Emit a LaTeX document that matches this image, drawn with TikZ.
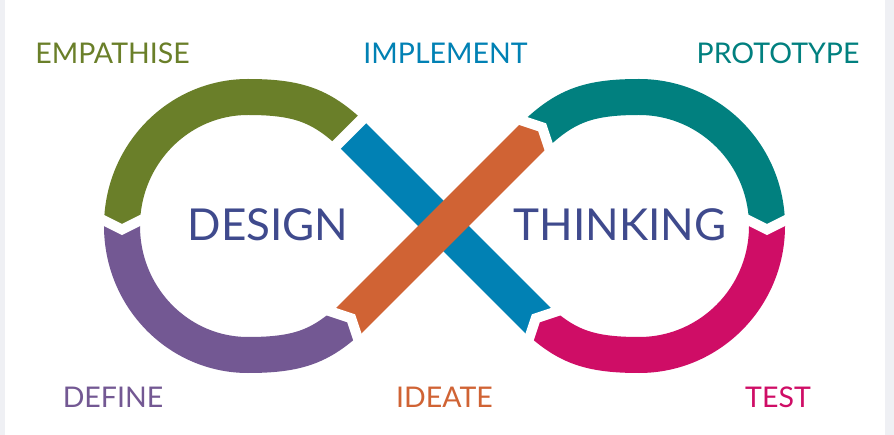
\documentclass[tikz,border=0pt]{standalone}
\usepackage{fontspec}
\setmainfont{Lato}
\definecolor{cgreen}{HTML}{6A7F29}
\definecolor{cpurple}{HTML}{735893}
\definecolor{cblue}{HTML}{0181B4}
\definecolor{corange}{HTML}{D06334}
\definecolor{cteal}{HTML}{01807F}
\definecolor{cpink}{HTML}{CF0D66}
\definecolor{cnavy}{HTML}{3F4A8D}
\definecolor{bggray}{HTML}{EFF0F4}
\newcommand\LoopL{(360,142.5) .. controls (325,107.5) and (303,97) .. (248,97) .. controls (178.4,97) and (122,154.8) .. (122,226) .. controls (122,297.2) and (178.4,355) .. (248,355) .. controls (303,355) and (325,344.5) .. (360,309.5)}
\newcommand\LoopR{(527,142.5) .. controls (562,107.5) and (584,97) .. (639,97) .. controls (709.7,97) and (767,154.8) .. (767,226) .. controls (767,297.2) and (709.7,355) .. (639,355) .. controls (584,355) and (562,344.5) .. (527,309.5)}
\begin{document}
\begin{tikzpicture}[x=1pt,y=-1pt,
  band/.style={line width=36pt},
  gap/.style={white,line width=10pt,line join=miter,miter limit=10},
  lbl/.style={anchor=base,inner sep=0pt,font=\fontsize{28.5}{30}\selectfont},
  big/.style={anchor=base,inner sep=0pt,text=cnavy,font=\fontsize{44}{46}\selectfont}]
\useasboundingbox (0,0) rectangle (894,435);
\fill[bggray] (0,0) rectangle (894,435);
\fill[white] (5,0) rectangle (885,435);
% green
\begin{scope}
\clip (325.46,156.04) -- (373.54,107.96) -- (390,20) -- (60,20) -- (60,217.5) -- (98,217.5) -- (122,229.5) -- (146,217.5) -- (156,217.5) -- cycle;
\draw[band,cgreen] \LoopL;
\end{scope}
% purple
\begin{scope}
\clip (60,217.5) -- (98,217.5) -- (122,229.5) -- (146,217.5) -- (156,217.5) -- (318.66,302.76) -- (325.73,309.83) -- (351.18,318.32) -- (359.67,343.77) -- (366.74,350.84) -- (366.74,420) -- (60,420) -- cycle;
\draw[band,cpurple] \LoopL;
\end{scope}
% teal
\begin{scope}
\clip (509.66,111.76) -- (516.73,118.83) -- (542.18,127.32) -- (550.67,152.77) -- (557.74,159.84) -- (733,217.5) -- (743,217.5) -- (767,229.5) -- (791,217.5) -- (830,217.5) -- (830,20) -- (500,20) -- cycle;
\draw[band,cteal] \LoopR;
\end{scope}
% pink
\begin{scope}
\clip (830,217.5) -- (791,217.5) -- (767,229.5) -- (743,217.5) -- (733,217.5) -- (568.34,302.76) -- (561.27,309.83) -- (535.82,318.32) -- (527.33,343.77) -- (520.26,350.84) -- (520.26,420) -- (830,420) -- cycle;
\draw[band,cpink] \LoopR;
\end{scope}
% blue
\begin{scope}
\clip (520.26,350.84) -- (527.33,343.77) -- (535.82,318.32) -- (561.27,309.83) -- (568.34,302.76) -- (373.54,107.96) -- (325.46,156.04) -- cycle;
\draw[band,cblue] (330,112.5) -- (560,342.5);
\end{scope}
% orange
\begin{scope}
\clip (318.66,302.76) -- (325.73,309.83) -- (351.18,318.32) -- (359.67,343.77) -- (366.74,350.84) -- (557.74,159.84) -- (550.67,152.77) -- (542.18,127.32) -- (516.73,118.83) -- (509.66,111.76) -- cycle;
\draw[band,corange] (330,339.5) -- (560,109.5);
\end{scope}
% gaps
\draw[gap] (98,217.5) -- (122,229.5) -- (146,217.5);
\draw[gap] (743,217.5) -- (767,229.5) -- (791,217.5);
\draw[gap] (325.73,309.83) -- (351.18,318.32) -- (359.67,343.77);
\draw[gap] (516.73,118.83) -- (542.18,127.32) -- (550.67,152.77);
\draw[gap] (527.33,343.77) -- (535.82,318.32) -- (561.27,309.83);
\draw[gap,line width=11pt] (366.47,115.03) -- (332.53,148.97);
% labels
\node[lbl,text=cgreen] (emp) at (112.5,64) {EMPATHISE};
\node[lbl,text=cblue] (imp) at (445.5,64) {IMPLEMENT};
\node[lbl,text=cteal] (pro) at (778,64) {PROTOTYPE};
\node[lbl,text=cpurple] (def) at (113,407) {DEFINE};
\node[lbl,text=corange] (ide) at (444.5,407) {IDEATE};
\node[lbl,text=cpink] (tst) at (778,407) {TEST};
\node[big] (des) at (268,241) {DESIGN};
\node[big] (thk) at (620,241) {THINKING};
\end{tikzpicture}
\end{document}
